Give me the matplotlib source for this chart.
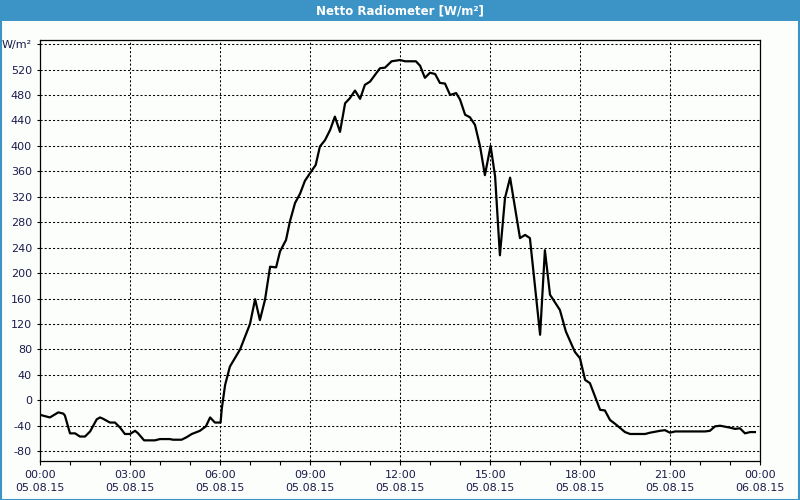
import matplotlib
matplotlib.use("Agg")
import matplotlib.pyplot as plt
from matplotlib.patches import Rectangle
import numpy as np

# Stunden seit 05.08.15 00:00 und Messwerte in W/m²
hours = [0.00, 0.16, 0.32, 0.60, 0.77, 0.82, 0.99, 1.16, 1.32, 1.49, 1.66, 1.88, 1.99, 2.09,
         2.32, 2.49, 2.66, 2.82, 2.99, 3.16, 3.26, 3.46, 3.82, 3.99, 4.32, 4.42, 4.71, 4.88,
         5.05, 5.32, 5.52, 5.66, 5.82, 6.01, 6.05, 6.16, 6.32, 6.66, 6.99, 7.16, 7.32, 7.49,
         7.66, 7.86, 7.99, 8.19, 8.32, 8.49, 8.66, 8.82, 8.99, 9.18, 9.32, 9.49, 9.66, 9.82,
         9.99, 10.16, 10.32, 10.49, 10.66, 10.82, 10.99, 11.32, 11.49, 11.71, 11.99, 12.16,
         12.52, 12.66, 12.82, 12.99, 13.16, 13.32, 13.49, 13.66, 13.86, 13.99, 14.16, 14.32,
         14.49, 14.66, 14.82, 15.01, 15.16, 15.32, 15.49, 15.66, 15.99, 16.16, 16.32, 16.66,
         16.82, 16.99, 17.32, 17.52, 17.82, 17.99, 18.16, 18.32, 18.49, 18.66, 18.82, 18.99,
         19.16, 19.49, 19.66, 20.16, 20.32, 20.66, 20.82, 20.99, 21.16, 22.16, 22.32, 22.49,
         22.66, 22.99, 23.16, 23.32, 23.49, 23.66, 23.82]
values = [-23, -25, -27, -19, -21, -24, -52, -52, -57, -57, -49, -30, -27, -29,
          -35, -35, -43, -53, -53, -48, -52, -63, -63, -61, -61, -62, -62, -58,
          -53, -48, -41, -27, -35, -35, -13, 24, 53, 80, 120, 159, 126, 158,
          210, 209, 234, 252, 281, 310, 325, 345, 357, 370, 399, 409, 425, 446,
          422, 467, 475, 487, 474, 496, 501, 522, 523, 533, 535, 533,
          533, 526, 507, 515, 513, 499, 498, 480, 483, 473, 449, 445,
          433, 399, 354, 400, 352, 228, 318, 350, 255, 260, 255, 103,
          236, 166, 142, 108, 76, 66, 32, 27, 6, -15, -16, -31,
          -37, -50, -53, -53, -51, -48, -47, -51, -49, -49, -48, -41,
          -40, -43, -45, -44, -52, -50, -50]

yticks = list(range(-80, 561, 40))
ylabels = [str(v) for v in yticks[:-1]] + ["W/m²"]
xticks = list(range(0, 25, 3))
xlabels = ["00:00\n05.08.15", "03:00\n05.08.15", "06:00\n05.08.15", "09:00\n05.08.15",
           "12:00\n05.08.15", "15:00\n05.08.15", "18:00\n05.08.15", "21:00\n05.08.15",
           "00:00\n06.08.15"]

bg = "#fcfefc"
blue = "#3c93c5"
txt = "#1c1c4c"

fig = plt.figure(figsize=(8, 5), dpi=100, facecolor=bg)
ax = fig.add_axes([40.3 / 800, 1 - 460.7 / 500, 720 / 800, 420.4 / 500])
ax.set_facecolor(bg)

# Titelleiste + Rahmen
fig.patches.append(Rectangle((0, 1 - 21 / 500), 1, 21 / 500, transform=fig.transFigure,
                             facecolor=blue, edgecolor="none", zorder=0))
fig.patches.append(Rectangle((0.001, 0.001), 0.998, 0.998, transform=fig.transFigure,
                             facecolor="none", edgecolor=blue, linewidth=1.5, zorder=1))
fig.text(0.5, 1 - 10.5 / 500, "Netto Radiometer [W/m²]", color="white", fontsize=8.5,
         fontweight="bold", ha="center", va="center")

ax.plot(hours, values, color="black", linewidth=1.6, zorder=3)

ax.set_xlim(0, 24)
ax.set_ylim(-95, 566)
ax.set_yticks(yticks)
ax.set_yticklabels(ylabels)
ax.set_xticks(xticks)
ax.set_xticklabels(xlabels, linespacing=1.35)
ax.set_xticks(np.arange(0, 25, 1), minor=True)

ax.grid(True, which="major", color="black", linestyle=(0, (2, 2)), linewidth=0.75)
ax.tick_params(axis="both", which="both", colors="black", labelcolor=txt, labelsize=8,
               direction="out", width=0.8)
ax.tick_params(axis="x", which="both", length=3, pad=4)
ax.tick_params(axis="y", length=2, pad=4)
for s in ax.spines.values():
    s.set_color("black")
    s.set_linewidth(0.9)

fig.savefig("out.png", dpi=100, facecolor=bg)
